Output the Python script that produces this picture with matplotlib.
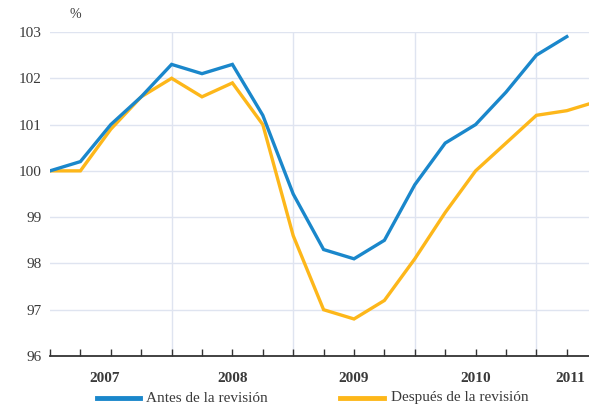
import numpy as np
import matplotlib.pyplot as plt

# quarterly index, 2007 Q1 = 100
antes = [100.0, 100.2, 101.0, 101.6, 102.3, 102.1, 102.3, 101.2, 99.5, 98.3,
         98.1, 98.5, 99.7, 100.6, 101.0, 101.7, 102.5, 102.9]
despues = [100.0, 100.0, 100.9, 101.6, 102.0, 101.6, 101.9, 101.0, 98.6, 97.0,
           96.8, 97.2, 98.1, 99.1, 100.0, 100.6, 101.2, 101.3, 101.5]
years = ["2007", "2008", "2009", "2010", "2011"]
year_pos = [1.8, 6, 10, 14, 17.1]
yticks = [96, 97, 98, 99, 100, 101, 102, 103]

blue = "#1a87cb"
orange = "#fdb71a"
grid_c = "#dfe4f0"
txt_c = "#3a3a3a"
plt.rcParams['font.family'] = ['Liberation Serif', 'DejaVu Serif']

fig = plt.figure(figsize=(5.89, 4.08), dpi=100)
ax = fig.add_axes([50 / 589, 1 - 356 / 408, 1 - 50 / 589, (356 - 32) / 408])

for y in yticks[1:]:
    ax.axhline(y, color=grid_c, lw=1, zorder=0)
for x in [4, 8, 12, 16]:
    ax.axvline(x, color=grid_c, lw=1, zorder=0)

ax.plot(np.arange(len(despues)), despues, color=orange, lw=2.4, zorder=3,
        label="Después de la revisión", solid_joinstyle='miter')
ax.plot(np.arange(len(antes)), antes, color=blue, lw=2.4, zorder=4,
        label="Antes de la revisión", solid_joinstyle='miter')

ax.set_xlim(0, 539 / 30.4)
ax.set_ylim(96, 103)
for s in ["top", "right", "left"]:
    ax.spines[s].set_visible(False)
ax.spines["bottom"].set_color("#333333")
ax.spines["bottom"].set_linewidth(1.3)

ax.set_xticks(np.arange(0, 18))
ax.set_xticklabels([])
ax.tick_params(axis='x', direction='in', length=5, width=1, color="#333333")
ax.set_yticks(yticks)
ax.set_yticklabels([str(v) for v in yticks], fontsize=11, color=txt_c)
ax.tick_params(axis='y', length=0, pad=6)

for yr, xp in zip(years, year_pos):
    ax.text(xp, 95.52, yr, ha='center', va='center', fontsize=11,
            fontweight='bold', color=txt_c, clip_on=False)

fig.text(75 / 589, 1 - 15 / 408, "%", ha='center', va='center', fontsize=10, color=txt_c)

# legend drawn manually at bottom
fig.add_artist(plt.Line2D([97 / 589, 140 / 589], [1 - 398 / 408] * 2, color=blue, lw=3.5))
fig.text(146 / 589, 1 - 398 / 408, "Antes de la revisión", va='center', fontsize=11, color=txt_c)
fig.add_artist(plt.Line2D([340 / 589, 384 / 589], [1 - 398 / 408] * 2, color=orange, lw=3.5))
fig.text(391 / 589, 1 - 398 / 408, "Después de la revisión", va='center', fontsize=11, color=txt_c)

fig.savefig("out.png", dpi=100)
